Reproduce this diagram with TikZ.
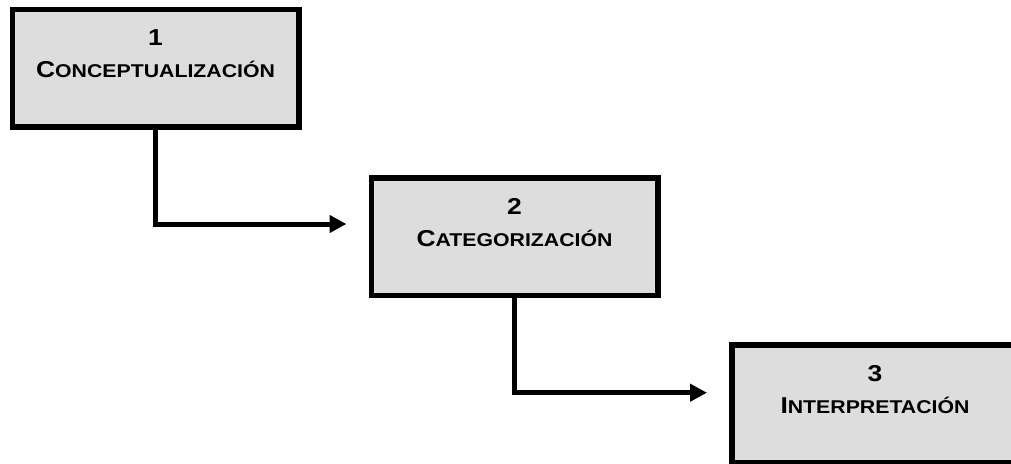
\documentclass[tikz,border=0pt]{standalone}
\usepackage{fontspec}
\usetikzlibrary{arrows.meta}
\newfontfamily\boxfont{Liberation Sans}[FakeStretch=1.15]
\definecolor{boxfill}{HTML}{DDDDDD}
% small caps faked with a larger first capital
\newcommand\fakesc[2]{{\fontsize{23}{27}\selectfont #1}{\fontsize{18.5}{22}\selectfont #2}}
\tikzset{
  stage/.style={draw=black, fill=boxfill, line width=5.5pt, rectangle,
    minimum width=286.5pt, minimum height=117.5pt, inner sep=0pt},
  numtext/.style={anchor=base, inner sep=0pt, font=\boxfont\bfseries\fontsize{23}{27}\selectfont},
  titletext/.style={anchor=base, inner sep=0pt, font=\boxfont\bfseries},
  conn/.style={draw=black, line width=5pt, line join=miter,
    -{Triangle[length=17pt,width=17pt]}}
}
\begin{document}
\begin{tikzpicture}[x=1pt,y=1pt]
  \useasboundingbox (0,0) rectangle (1011,-463);
  \clip (0,0) rectangle (1011,-463);

  % the three stages
  \node[stage] (b1) at (155.5,-68) {};
  \node[stage] (b2) at (514.5,-236.5) {};
  \node[stage] (b3) at (875,-403.5) {};

  % stage labels
  \node[numtext] (n1) at ([yshift=-39pt]b1.north) {1};
  \node[titletext] (t1) at ([yshift=-71pt]b1.north) {\fakesc{C}{ONCEPTUALIZACIÓN}};
  \node[numtext] (n2) at ([yshift=-39pt]b2.north) {2};
  \node[titletext] (t2) at ([yshift=-71pt]b2.north) {\fakesc{C}{ATEGORIZACIÓN}};
  \node[numtext] (n3) at ([yshift=-39pt]b3.north) {3};
  \node[titletext] (t3) at ([yshift=-71pt]b3.north) {\fakesc{I}{NTERPRETACIÓN}};

  % elbow connectors between stages
  \draw[conn] (b1.south) |- ([xshift=-22pt,yshift=12.5pt]b2.west);
  \draw[conn] (b2.south) |- ([xshift=-22pt,yshift=10.8pt]b3.west);
\end{tikzpicture}
\end{document}
